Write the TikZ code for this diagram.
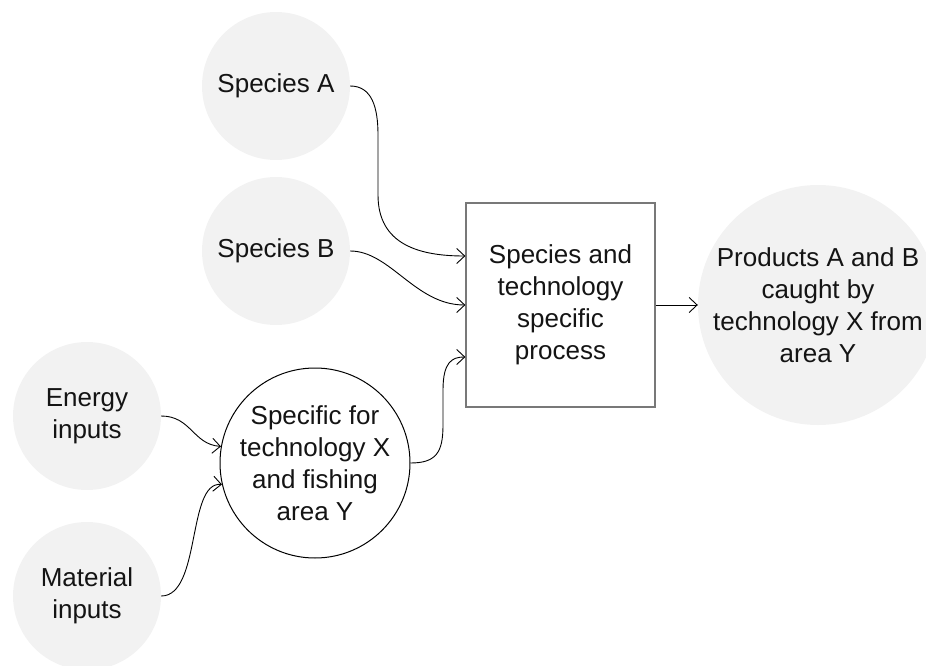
\documentclass[tikz,border=0pt]{standalone}
\usepackage{fontspec}
\setmainfont{Liberation Sans}
\usetikzlibrary{arrows.meta}
\definecolor{bubble}{RGB}{242,242,242}
\definecolor{boxline}{RGB}{120,120,120}
\definecolor{txt}{RGB}{20,20,20}
\begin{document}
\begin{tikzpicture}[x=1pt,y=-1pt,
  every node/.style={font=\fontsize{26}{32}\selectfont, text=txt, align=center, inner sep=0pt},
  bubble/.style={circle, fill=bubble, minimum size=148pt},
  bigbubble/.style={circle, fill=bubble, minimum size=240pt},
  ringnode/.style={circle, draw=black, line width=1pt, fill=white, minimum size=190pt},
  procbox/.style={rectangle, draw=boxline, line width=1.3pt, minimum width=189pt, minimum height=204pt},
  link/.style={draw=black, line width=0.9pt, -{Straight Barb[length=8pt,width=15pt,line width=0.9pt]}}
]
\useasboundingbox (0,0) rectangle (926,666);
\node[bubble] (spa) at (276,86) {Species A};
\node[bubble] (spb) at (276,251) {Species B};
\node[bubble] (ene) at (87,416) {Energy\\inputs};
\node[bubble] (mat) at (87,596) {Material\\inputs};
\node[ringnode] (spec) at (315,463) {Specific for\\technology X\\and fishing\\area Y};
\node[procbox] (proc) at (560.5,305) {Species and\\technology\\specific\\process};
\node[bigbubble] (prod) at (818,305) {Products A and B\\caught by\\technology X from\\area Y};

\coordinate (pa) at ([yshift=49pt]proc.west);
\coordinate (pc) at ([yshift=-52pt]proc.west);

\draw[link] (spa.east) .. controls +(22,0) and (378,108) .. (378,135) -- (378,195)
  .. controls (378,245) and (420,256) .. (pa);
\draw[link] (spb.east) .. controls +(40,0) and +(-50,0) .. (proc.west);
\draw[link] (ene.east) .. controls +(30,0) and +(-28,-2) .. (spec.170);
\draw[link] (mat.east) .. controls +(40,0) and +(-35,-3) .. (spec.193);
\draw[link] (spec.east) .. controls +(26,0) and (443,452) .. (443,425) -- (443,390)
  .. controls (443,362) and (452,357) .. (pc);
\draw[link] (proc.east) -- (prod.west);
\end{tikzpicture}
\end{document}
